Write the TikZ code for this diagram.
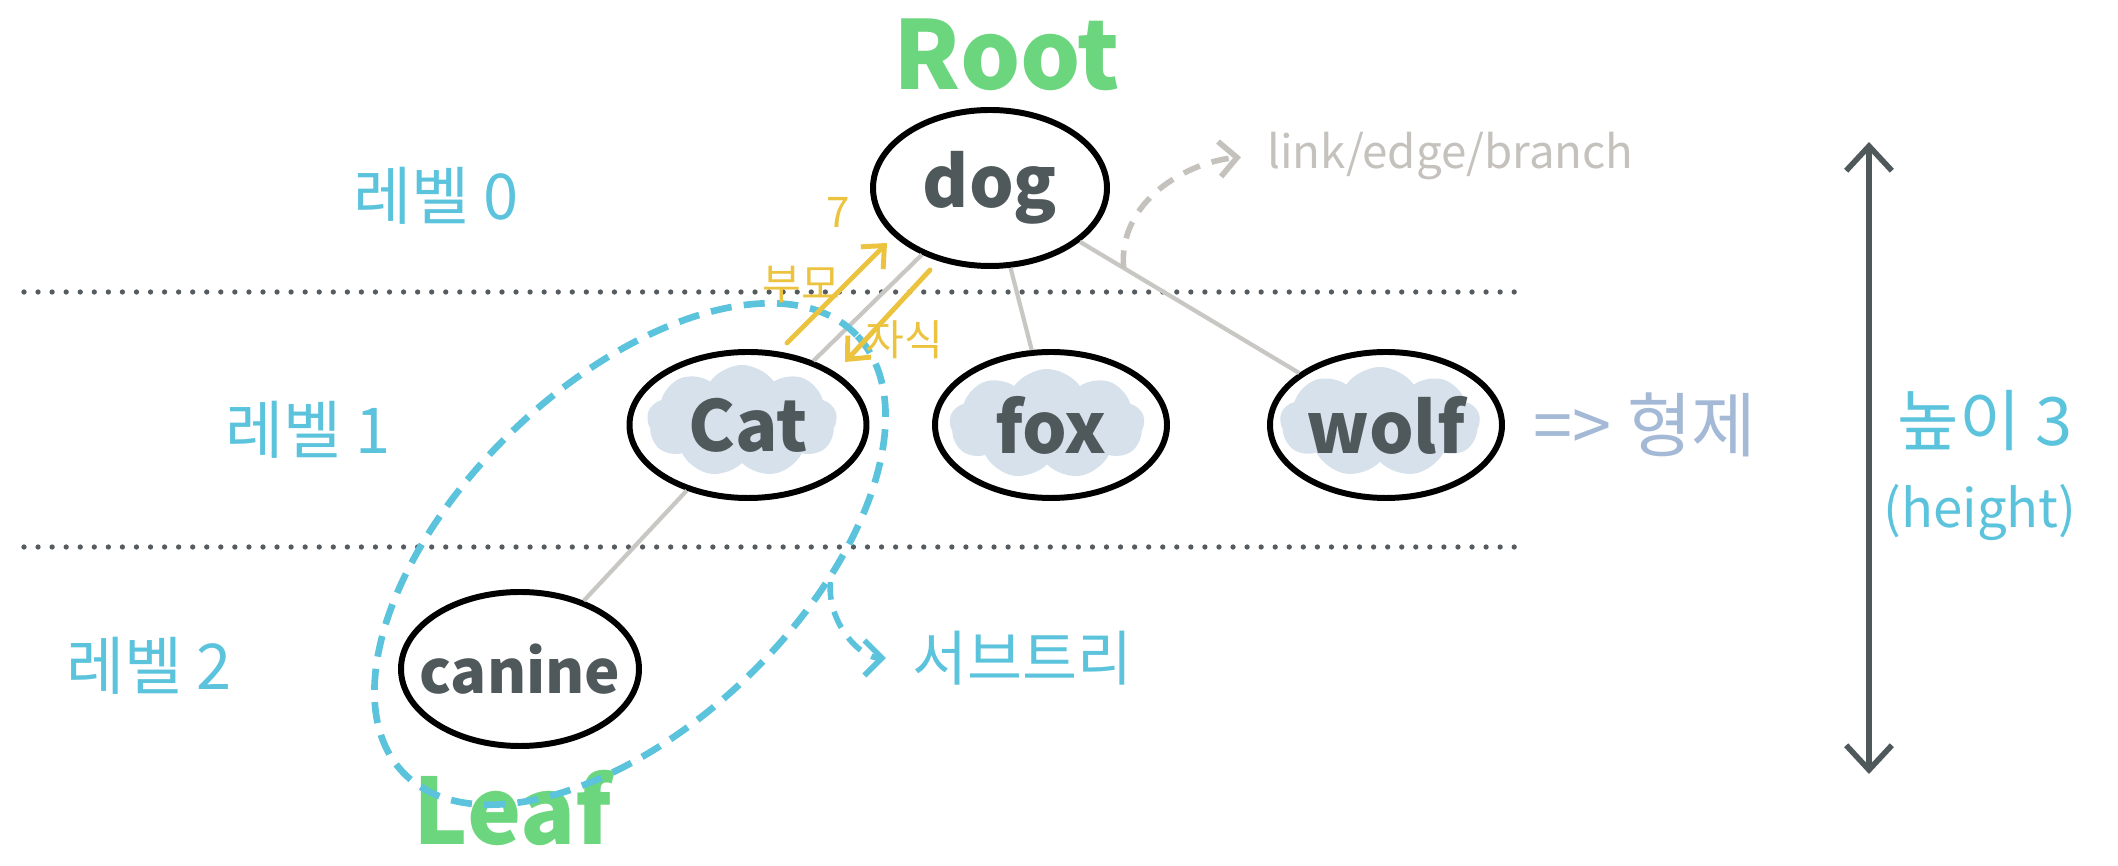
\documentclass[tikz,border=0pt]{standalone}
\usepackage{fontspec}
\setmainfont{Noto Sans CJK KR}
\usetikzlibrary{shapes.geometric,shapes.symbols,arrows.meta}
\definecolor{rootgreen}{HTML}{6CD67F}
\definecolor{lvlblue}{HTML}{5CC3DC}
\definecolor{nodegrey}{HTML}{4F585B}
\definecolor{edgegrey}{HTML}{C9C7C3}
\definecolor{linkgrey}{HTML}{C5C2BD}
\definecolor{ylw}{HTML}{EBC33F}
\definecolor{blobblue}{HTML}{D6E1EC}
\definecolor{sibblue}{HTML}{A4B9D5}
\definecolor{sepgrey}{HTML}{555B5E}
\def\nt#1{\makebox[0pt]{#1}}

\begin{document}
\begin{tikzpicture}[
		tnode/.style={draw, ellipse, line width=1.7pt, inner sep=0pt, text=nodegrey, font=\fontsize{20}{24}\selectfont\bfseries},
		blob/.style={cloud, cloud puffs=9, cloud puff arc=110, fill=blobblue, inner sep=0pt},
		branch/.style={line width=1.2pt, edgegrey},
		lvl/.style={text=lvlblue, font=\fontsize{18}{22}\selectfont},
		sep/.style={line width=1.5pt, line cap=round, dash pattern=on 0pt off 4pt, sepgrey},
		yarrow/.style={-{Straight Barb[length=5pt,width=9pt]}, line width=1.4pt, ylw, line cap=round},
		barb/.style={-{Straight Barb[length=5pt,width=10pt]}, line width=1.6pt, dash pattern=on 5pt off 3.5pt, shorten >=4pt}
	]
	\useasboundingbox (0,0) rectangle (21.18,8.66);

	\draw[sep] (0.24,5.74) -- (15.2,5.74);
	\draw[sep] (0.24,3.19) -- (15.2,3.19);

	\node[lvl] (lv0) at (4.36,6.70) {레벨 0};
	\node[lvl] (lv1) at (3.08,4.36) {레벨 1};
	\node[lvl] (lv2) at (1.49,2.00) {레벨 2};

	\node[blob, minimum width=1.9cm, minimum height=1.12cm] (catbg) at (7.42,4.45) {};
	\node[blob, minimum width=1.95cm, minimum height=1.1cm] (foxbg) at (10.47,4.42) {};
	\node[blob, minimum width=2.0cm, minimum height=1.1cm] (wolfbg) at (13.80,4.44) {};

	\node[tnode, minimum width=2.34cm, minimum height=1.56cm] (dog) at (9.90,6.78) {\nt{dog}};
	\node[tnode, minimum width=2.37cm, minimum height=1.46cm] (cat) at (7.48,4.41) {\nt{Cat}};
	\node[tnode, minimum width=2.32cm, minimum height=1.46cm] (fox) at (10.51,4.41) {\nt{fox}};
	\node[tnode, minimum width=2.32cm, minimum height=1.46cm] (wolf) at (13.86,4.41) {\nt{wolf}};
	\node[tnode, minimum width=2.38cm, minimum height=1.54cm, font=\fontsize{17}{20}\selectfont\bfseries] (canine) at (5.20,1.97) {\nt{canine}};

	\draw[branch] (dog) -- (cat);
	\draw[branch] (dog) -- (fox);
	\draw[branch] (dog) -- coordinate[pos=0.2] (lnk) (wolf);
	\draw[branch] (cat) -- (canine);

	\node[text=rootgreen, font=\fontsize{27}{30}\selectfont\bfseries] (root) at (10.07,8.11) {Root};
	\node[text=rootgreen, font=\fontsize{26}{30}\selectfont\bfseries] (leaf) at (5.13,0.58) {Leaf};

	\node[draw=lvlblue, ellipse, rotate=44, minimum width=6.3cm, minimum height=3.4cm, line width=1.9pt, dash pattern=on 6pt off 3.5pt] (subtr) at (6.30,3.12) {};
	\node[lvl, font=\fontsize{17}{20}\selectfont, anchor=west] (subtxt) at (9.0,2.08) {서브트리};
	\draw[barb, lvlblue] (subtr.-52) to[out=-95, in=180] (subtxt.west);

	\node[text=linkgrey, font=\fontsize{13}{16}\selectfont, anchor=west] (linktxt) at (12.55,7.10) {link/edge/branch};
	\draw[barb, linkgrey] (lnk) to[out=95, in=185] (linktxt.west);

	\coordinate (pa1) at (7.87,5.23);
	\coordinate (pa2) at (8.87,6.23);
	\coordinate (ch1) at (9.30,5.96);
	\coordinate (ch2) at (8.45,5.04);
	\draw[yarrow] (pa1) -- (pa2);
	\draw[yarrow] (ch1) -- (ch2);
	\node[text=ylw, font=\fontsize{12}{14}\selectfont] (seven) at (8.38,6.54) {7};
	\node[text=ylw, font=\fontsize{12}{14}\selectfont] (parent) at (8.01,5.82) {부모};
	\node[text=ylw, font=\fontsize{12}{14}\selectfont] (child) at (9.04,5.26) {자식};

	\node[text=sibblue, font=\fontsize{20}{24}\selectfont] (sib) at (16.45,4.41) {=> 형제};

	\coordinate (htop) at (18.69,7.24);
	\coordinate (hbot) at (18.69,0.92);
	\draw[{Straight Barb[length=7pt,width=13pt]}-{Straight Barb[length=7pt,width=13pt]}, line width=1.6pt, nodegrey, line cap=round] (htop) -- (hbot);
	\node[lvl, font=\fontsize{19}{22}\selectfont] (height) at (19.85,4.45) {높이 3};
	\node[lvl, font=\fontsize{15}{18}\selectfont] (heighten) at (19.80,3.53) {(height)};
\end{tikzpicture}
\end{document}
